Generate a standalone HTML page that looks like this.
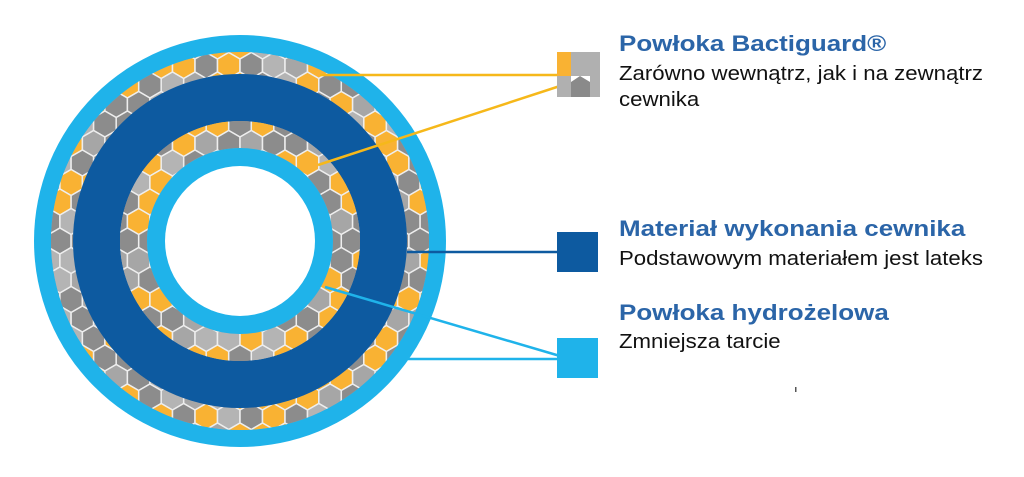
<!DOCTYPE html>
<html><head><meta charset="utf-8"><style>
body{margin:0;width:1024px;height:477px;background:#fff;overflow:hidden;position:relative;font-family:"Liberation Sans",Arial,sans-serif}
.h{position:absolute;left:619px;font-weight:bold;font-size:22px;color:#2b65a8;white-space:nowrap;transform:scaleX(1.18);transform-origin:0 0}
.s{position:absolute;left:619px;font-size:20px;color:#111;white-space:nowrap;transform:scaleX(1.11);transform-origin:0 0}
</style></head><body>
<svg id="sv" width="1024" height="477" style="position:absolute;left:0;top:0">
<defs>
<clipPath id="c1"><path d="M240,241 m-189,0 a189,189 0 1,0 378,0 a189,189 0 1,0 -378,0 M240,241 m-167,0 a167,167 0 1,1 334,0 a167,167 0 1,1 -334,0" clip-rule="evenodd"/></clipPath>
<clipPath id="c2"><path d="M240,241 m-120,0 a120,120 0 1,0 240,0 a120,120 0 1,0 -240,0 M240,241 m-93,0 a93,93 0 1,1 186,0 a93,93 0 1,1 -186,0" clip-rule="evenodd"/></clipPath>
</defs>
<circle cx="240" cy="241" r="206" fill="#1fb3ea"/>
<circle cx="240" cy="241" r="189" fill="#a9a9a9"/>
<g id="g1" clip-path="url(#c1)"></g>
<circle cx="240" cy="241" r="167" fill="#0d5aa0"/>
<circle cx="240" cy="241" r="120" fill="#a9a9a9"/>
<g id="g2" clip-path="url(#c2)"></g>
<circle cx="240" cy="241" r="93" fill="#1fb3ea"/>
<circle cx="240" cy="241" r="75" fill="#fff"/>
<g stroke-width="2.5" fill="none">
<line x1="320" y1="75" x2="560" y2="75" stroke="#f6b81a"/>
<line x1="318" y1="165" x2="560" y2="86" stroke="#f6b81a"/>
<line x1="407" y1="252" x2="560" y2="252" stroke="#0d5aa0"/>
<line x1="325" y1="287" x2="560" y2="356" stroke="#1fb3ea"/>
<line x1="408" y1="359" x2="560" y2="359" stroke="#1fb3ea"/>
</g>
<rect x="557" y="52" width="14" height="24" fill="#f9b233"/>
<rect x="571" y="52" width="29" height="24" fill="#b0b0b0"/>
<rect x="557" y="76" width="14" height="21" fill="#b0b0b0"/>
<polygon points="571,97 571,82 580,76 590,82 590,97" fill="#8a8a8a"/>
<rect x="590" y="76" width="10" height="21" fill="#b0b0b0"/>
<rect x="557" y="232" width="41" height="40" fill="#0d5aa0"/>
<rect x="557" y="338" width="41" height="40" fill="#1fb3ea"/>
<rect x="795" y="387" width="1.5" height="5" fill="#555"/>
</svg>
<div class="h" style="top:31px">Powłoka Bactiguard®</div>
<div class="s" style="top:63px">Zarówno wewnątrz, jak i na zewnątrz</div>
<div class="s" style="top:89px">cewnika</div>
<div class="h" style="top:216px">Materiał wykonania cewnika</div>
<div class="s" style="top:248px">Podstawowym materiałem jest lateks</div>
<div class="h" style="top:300px">Powłoka hydrożelowa</div>
<div class="s" style="top:331px">Zmniejsza tarcie</div>
<script>
(function(){
var ns="http://www.w3.org/2000/svg";
var cols=["#f9b233","#b4b4b4","#8c8c8c","#f9b233","#a6a6a6","#8c8c8c"];
var seed=7;function rnd(){seed=(seed*9301+49297)%233280;return seed/233280;}
function fill(id,r0,r1){
 var g=document.getElementById(id);var s=13;var w=Math.sqrt(3)*s;
 for(var row=-20;row<=20;row++){for(var col=-20;col<=20;col++){
  var x=240+col*w+(row&1?w/2:0), y=241+row*1.5*s;
  var d=Math.hypot(x-240,y-241); if(d<r0-s||d>r1+s)continue;
  var p=[];for(var k=0;k<6;k++){var a=Math.PI/3*k+Math.PI/6;p.push((x+s*Math.cos(a)).toFixed(1)+","+(y+s*Math.sin(a)).toFixed(1));}
  var e=document.createElementNS(ns,"polygon");e.setAttribute("points",p.join(" "));
  e.setAttribute("fill",cols[Math.floor(rnd()*cols.length)]);e.setAttribute("stroke","#eee");e.setAttribute("stroke-width","1.5");
  g.appendChild(e);}}
}
fill("g1",167,189);fill("g2",93,120);
})();
</script>
</body></html>
